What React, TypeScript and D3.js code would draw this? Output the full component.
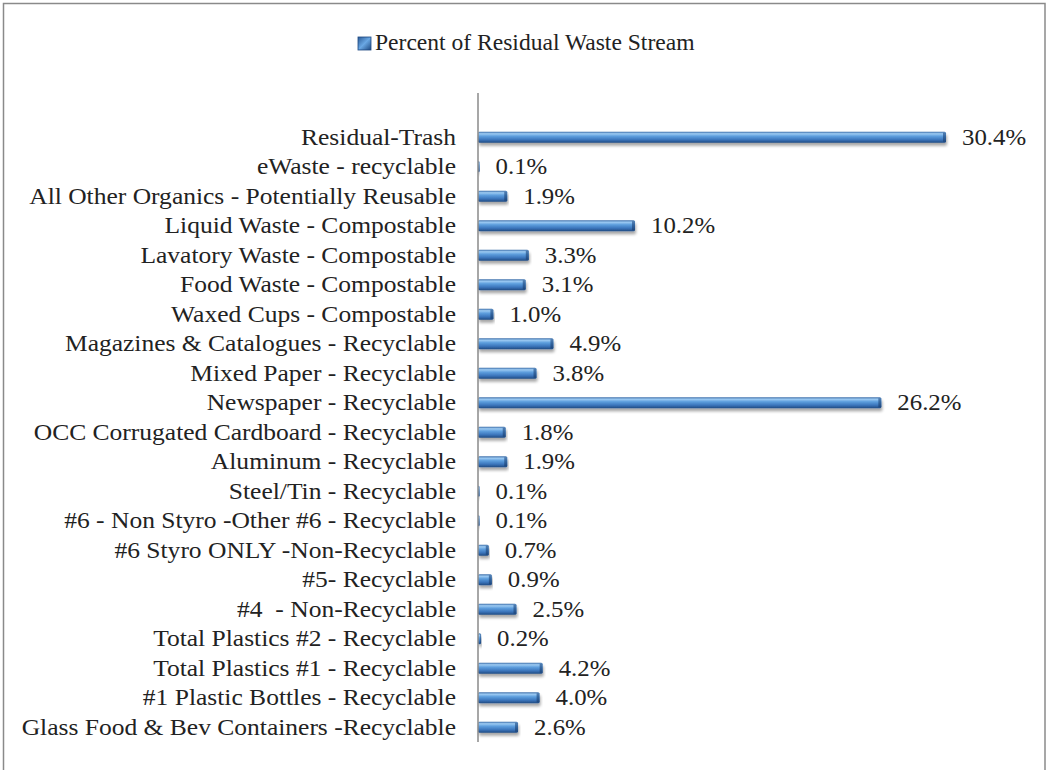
import React from "react";
import * as d3 from "d3";

const categories: string[] = [
  "Residual-Trash",
  "eWaste - recyclable",
  "All Other Organics - Potentially Reusable",
  "Liquid Waste - Compostable",
  "Lavatory Waste - Compostable",
  "Food Waste - Compostable",
  "Waxed Cups - Compostable",
  "Magazines & Catalogues - Recyclable",
  "Mixed Paper - Recyclable",
  "Newspaper - Recyclable",
  "OCC Corrugated Cardboard - Recyclable",
  "Aluminum - Recyclable",
  "Steel/Tin - Recyclable",
  "#6 - Non Styro -Other #6 - Recyclable",
  "#6 Styro ONLY -Non-Recyclable",
  "#5- Recyclable",
  "#4  - Non-Recyclable",
  "Total Plastics #2 - Recyclable",
  "Total Plastics #1 - Recyclable",
  "#1 Plastic Bottles - Recyclable",
  "Glass Food & Bev Containers -Recyclable",
];

const values: number[] = [
  30.4, 0.1, 1.9, 10.2, 3.3, 3.1, 1.0, 4.9, 3.8, 26.2, 1.8, 1.9, 0.1, 0.1, 0.7,
  0.9, 2.5, 0.2, 4.2, 4.0, 2.6,
];

const seriesName = "Percent of Residual Waste Stream";
const GAP = "__gap__";

const W = 1046;
const H = 770;
const plotLeft = 478;
const plotTop = 93;
const plotBottom = 742;
const FONT = "Liberation Serif, Times New Roman, serif";
const FS = 23;

export default function App() {
  const x = d3.scaleLinear().domain([0, 30.4]).range([plotLeft, 946]);
  const y = d3
    .scaleBand<string>()
    .domain([GAP, ...categories])
    .range([plotTop, plotBottom]);
  const barH = 11;
  const fmt = (v: number) => d3.format(".1f")(v) + "%";
  const txtStyle: React.CSSProperties = {
    fontFamily: FONT,
    fontSize: FS,
    whiteSpace: "pre",
  };

  return (
    <svg
      width={W}
      height={H}
      style={{ position: "absolute", left: 0, top: 0, background: "#fff" }}
    >
      <defs>
        <linearGradient id="barGrad" x1="0" y1="0" x2="0" y2="1">
          <stop offset="0%" stopColor="#3a6ca8" />
          <stop offset="18%" stopColor="#9ccaf2" />
          <stop offset="40%" stopColor="#5e9fde" />
          <stop offset="72%" stopColor="#3c76bc" />
          <stop offset="100%" stopColor="#1f4a82" />
        </linearGradient>
        <linearGradient id="capGrad" x1="0" y1="0" x2="0" y2="1">
          <stop offset="0%" stopColor="#2d5c96" />
          <stop offset="100%" stopColor="#1a3f70" />
        </linearGradient>
        <linearGradient id="legGrad" x1="0" y1="0" x2="1" y2="1">
          <stop offset="0%" stopColor="#2a5a96" />
          <stop offset="50%" stopColor="#6aa8e4" />
          <stop offset="100%" stopColor="#1d4880" />
        </linearGradient>
        <filter id="shadow" x="-5%" y="-50%" width="110%" height="250%">
          <feGaussianBlur in="SourceAlpha" stdDeviation="1.5" />
          <feOffset dx="1" dy="2.5" result="ob" />
          <feComponentTransfer>
            <feFuncA type="linear" slope="0.35" />
          </feComponentTransfer>
          <feMerge>
            <feMergeNode />
            <feMergeNode in="SourceGraphic" />
          </feMerge>
        </filter>
      </defs>

      <rect
        x={3.5}
        y={3.5}
        width={W - 4.5}
        height={H + 20}
        fill="#fff"
        stroke="#8a8a8a"
        strokeWidth={1.5}
      />

      {/* legend */}
      <g>
        <rect
          x={358}
          y={37}
          width={13}
          height={13}
          fill="url(#legGrad)"
          stroke="#1d4880"
          strokeWidth={0.8}
        />
        <text
          transform="translate(375,50) scale(1.025,1)"
          style={txtStyle}
          fill="#222"
        >
          {seriesName}
        </text>
      </g>

      {/* bars */}
      {categories.map((c, i) => {
        const cy = (y(c) as number) + y.bandwidth() / 2;
        const w = Math.max(x(values[i]) - x(0), 1.5);
        const cap = Math.min(3, w * 0.3);
        return (
          <g key={c}>
            <g filter="url(#shadow)">
              <rect
                x={x(0)}
                y={cy - barH / 2}
                width={w}
                height={barH}
                rx={1.5}
                fill="url(#barGrad)"
              />
            </g>
            <rect
              x={x(0) + w - cap}
              y={cy - barH / 2 + 1}
              width={cap}
              height={barH - 2}
              fill="url(#capGrad)"
              opacity={0.7}
            />
            <text
              transform={`translate(${x(0) + w + 16},${cy + 7.5}) scale(1.08,1)`}
              style={txtStyle}
              fill="#222"
            >
              {fmt(values[i])}
            </text>
            <text
              transform={`translate(456,${cy + 7.5}) scale(1.11,1)`}
              textAnchor="end"
              style={txtStyle}
              fill="#222"
            >
              {c}
            </text>
          </g>
        );
      })}

      {/* axis */}
      <line
        x1={plotLeft}
        x2={plotLeft}
        y1={plotTop}
        y2={plotBottom}
        stroke="#8a8a8a"
        strokeWidth={1.5}
      />
    </svg>
  );
}
